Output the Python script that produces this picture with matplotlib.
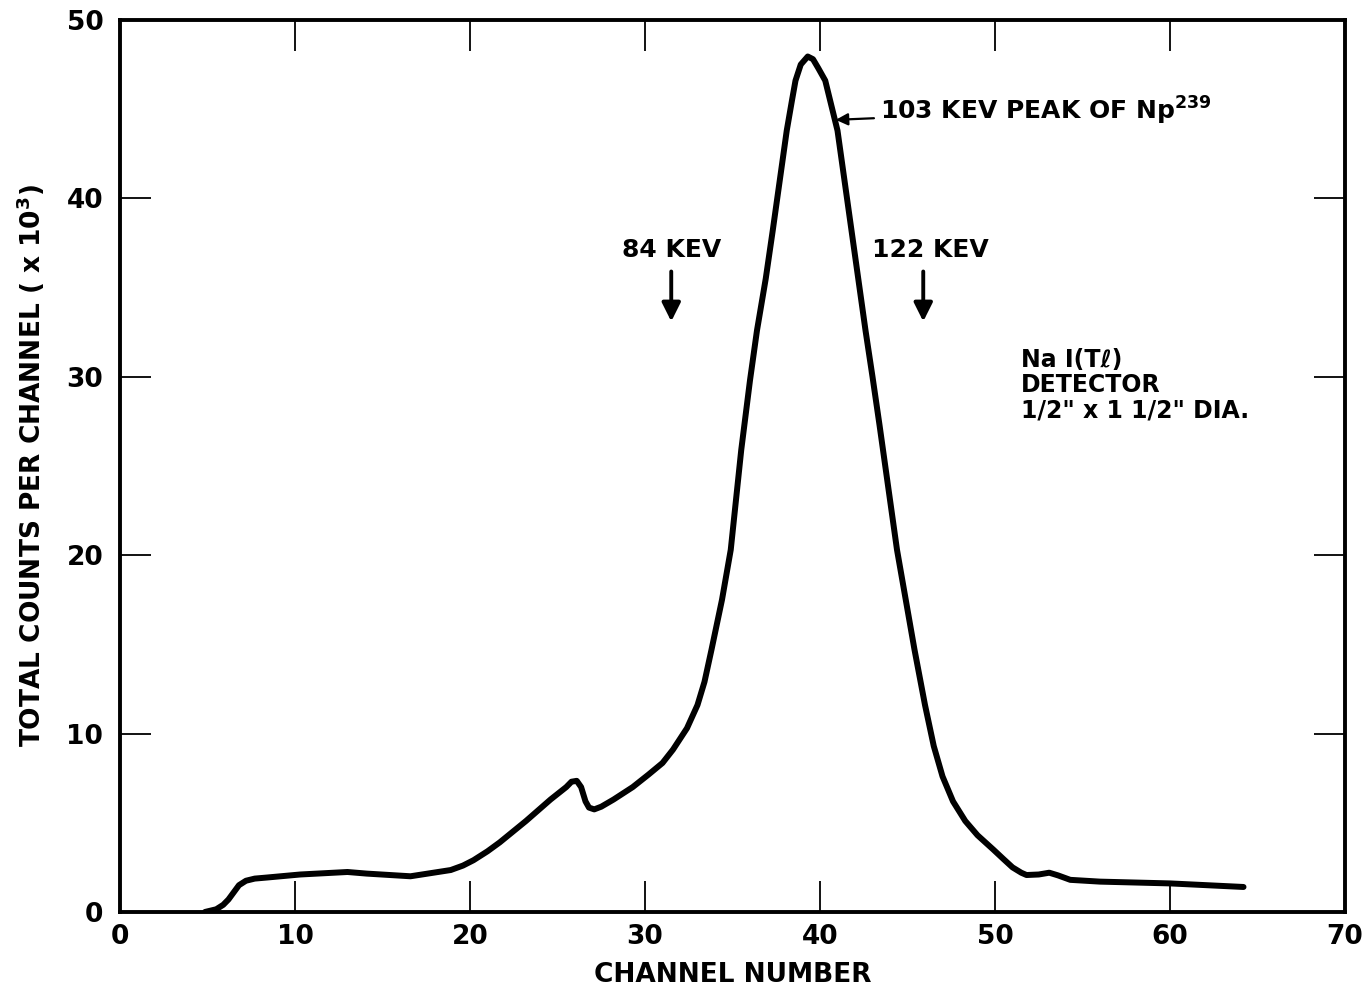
import numpy as np
import matplotlib.pyplot as plt

# spectrum (channel, counts x 10^3)
channel = [4.86, 5.5, 5.9, 6.2, 6.5, 6.8, 7.2, 7.7, 8.4, 10.3, 13.0, 14.1,
           16.6, 18.9, 19.6, 20.2, 21.0, 21.7, 23.2, 24.6, 25.5, 25.8, 26.1,
           26.35, 26.6, 26.8, 27.1, 27.5, 28.2, 29.3, 30.2, 31.0, 31.6, 32.4,
           33.0, 33.4, 33.8, 34.4, 34.9, 35.2, 35.5, 36.0, 36.4, 36.9, 37.3,
           37.7, 38.1, 38.4, 38.6, 38.9, 39.3, 39.6, 39.9, 40.3, 40.6, 41.0,
           41.4, 41.8, 42.2, 42.6, 43.0, 43.4, 43.9, 44.4, 44.9, 45.4, 46.0,
           46.5, 47.0, 47.6, 48.3, 49.0, 49.9, 50.5, 51.0, 51.5, 51.8, 52.5,
           53.1, 53.6, 54.3, 56.0, 60.0, 64.2]
counts = [0.0, 0.15, 0.4, 0.7, 1.1, 1.5, 1.75, 1.87, 1.93, 2.1, 2.24, 2.15,
          2.0, 2.35, 2.6, 2.9, 3.4, 3.9, 5.1, 6.3, 7.0, 7.3, 7.35,
          7.0, 6.2, 5.85, 5.75, 5.9, 6.3, 7.0, 7.7, 8.35, 9.1, 10.3,
          11.6, 12.9, 14.7, 17.5, 20.3, 23.1, 25.9, 29.8, 32.6, 35.5, 38.2,
          41.0, 43.8, 45.5, 46.6, 47.5, 47.95, 47.8, 47.3, 46.6, 45.4, 43.8,
          41.0, 38.2, 35.4, 32.6, 30.0, 27.3, 23.8, 20.3, 17.5, 14.7, 11.6,
          9.3, 7.6, 6.2, 5.1, 4.3, 3.5, 2.95, 2.5, 2.2, 2.07, 2.1,
          2.2, 2.05, 1.8, 1.7, 1.6, 1.4]

xticks = [0, 10, 20, 30, 40, 50, 60, 70]
yticks = [0, 10, 20, 30, 40, 50]

plt.rcParams['font.family'] = ['DejaVu Sans']
plt.rcParams['font.weight'] = 'bold'

fig = plt.figure(figsize=(13.68, 9.97), dpi=100)
ax = fig.add_axes([0.0877, 0.0853, 0.8955, 0.8947])

ax.plot(channel, counts, color='black', lw=4.3, solid_capstyle='round',
        solid_joinstyle='round')

ax.set_xlim(0, 70)
ax.set_ylim(0, 50)
ax.set_xticks(xticks)
ax.set_yticks(yticks)
ax.tick_params(direction='in', length=22, width=1.3, labelsize=19,
               top=True, right=True, pad=9)
ax.tick_params(axis='y', pad=12)
for lbl in ax.get_xticklabels() + ax.get_yticklabels():
    lbl.set_fontweight('bold')
for s in ax.spines.values():
    s.set_linewidth(2.8)

ax.set_xlabel('CHANNEL NUMBER', fontsize=19, fontweight='bold', labelpad=8)
ax.set_ylabel('TOTAL COUNTS PER CHANNEL ( x 10$^3$)', fontsize=19,
              fontweight='bold', labelpad=14)

arrow = dict(arrowstyle='-|>', color='black', lw=2.8, mutation_scale=28,
             shrinkA=0, shrinkB=0)

ax.annotate(r'103 KEV PEAK OF Np$^{\mathbf{239}}$', xy=(40.9, 44.4),
            xytext=(43.4, 44.9), fontsize=18, fontweight='bold',
            va='center', ha='left',
            arrowprops=dict(arrowstyle='-|>', color='black', lw=1.6,
                            mutation_scale=18, shrinkA=2, shrinkB=0))

ax.text(31.5, 37.1, '84 KEV', fontsize=18, fontweight='bold',
        ha='center', va='center')
ax.annotate('', xy=(31.5, 33.1), xytext=(31.5, 35.9), arrowprops=arrow)
ax.text(46.3, 37.1, '122 KEV', fontsize=18, fontweight='bold',
        ha='center', va='center')
ax.annotate('', xy=(45.9, 33.1), xytext=(45.9, 35.9), arrowprops=arrow)

ax.text(51.5, 31.6, 'Na I(T\u2113)\nDETECTOR\n1/2" x 1 1/2" DIA.', fontsize=17,
        fontweight='bold', ha='left', va='top', linespacing=1.05)

fig.savefig('out.png', dpi=100)
